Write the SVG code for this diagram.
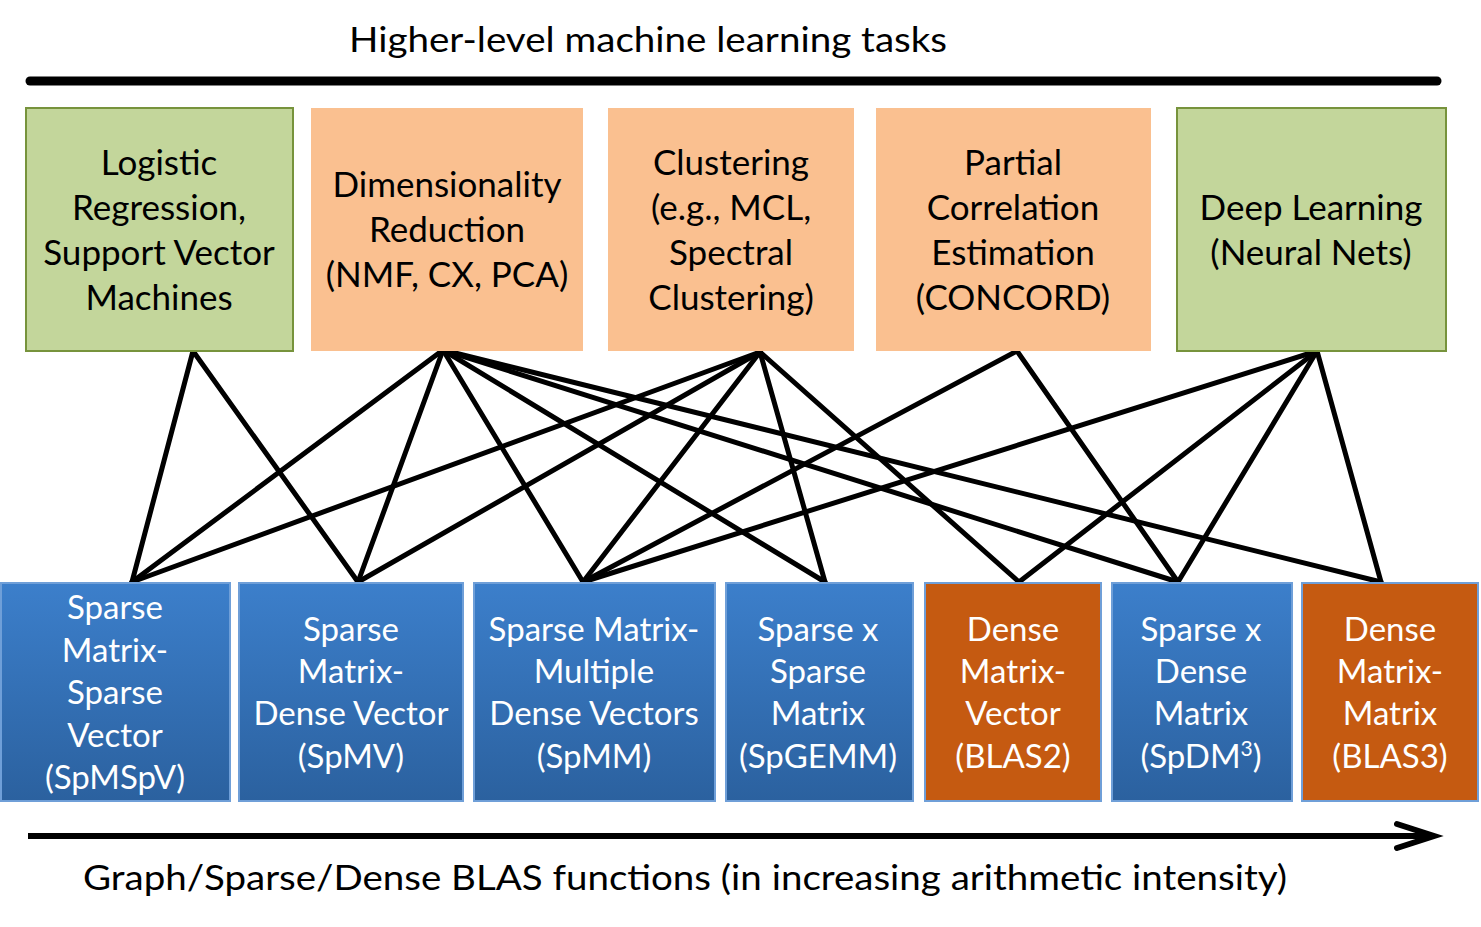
<svg xmlns="http://www.w3.org/2000/svg" width="1481" height="927" viewBox="0 0 1481 927">
<defs>
<linearGradient id="blue" x1="0" y1="0" x2="0" y2="1">
<stop offset="0" stop-color="#3c7fcb"/>
<stop offset="1" stop-color="#2b619f"/>
</linearGradient>
<style>
.t{font-family:Lato,"Open Sans","Liberation Sans",sans-serif;font-size:35px;text-anchor:middle;fill:#000}
.w{fill:#fff;font-size:33px}
.green{fill:#c3d69b;stroke:#77933c;stroke-width:2}
.peach{fill:#fac090}
.bl{fill:url(#blue);stroke:#6f9fd8;stroke-width:2}
.or{fill:#c55a11;stroke:#6f9fd8;stroke-width:2}
.c line{stroke:#000;stroke-width:5;stroke-linecap:round}
</style>
</defs>
<rect width="1481" height="927" fill="#fff"/>

<text class="t" x="648" y="52" textLength="598" lengthAdjust="spacingAndGlyphs">Higher-level machine learning tasks</text>
<line x1="30" y1="81" x2="1437" y2="81" stroke="#000" stroke-width="9" stroke-linecap="round"/>

<g class="c" id="connectors">
<line x1="193" y1="351" x2="132" y2="582"/>
<line x1="193" y1="351" x2="358" y2="582"/>
<line x1="443" y1="350" x2="132" y2="582"/>
<line x1="443" y1="350" x2="358" y2="582"/>
<line x1="443" y1="350" x2="583" y2="582"/>
<line x1="443" y1="350" x2="825" y2="582"/>
<line x1="443" y1="350" x2="1178" y2="582"/>
<line x1="443" y1="350" x2="1381" y2="582"/>
<line x1="760" y1="352" x2="132" y2="582"/>
<line x1="760" y1="352" x2="358" y2="582"/>
<line x1="760" y1="352" x2="583" y2="582"/>
<line x1="760" y1="352" x2="825" y2="582"/>
<line x1="760" y1="352" x2="1019" y2="582"/>
<line x1="1017" y1="351" x2="583" y2="582"/>
<line x1="1017" y1="351" x2="1178" y2="582"/>
<line x1="1317" y1="351" x2="583" y2="582"/>
<line x1="1317" y1="351" x2="1019" y2="582"/>
<line x1="1317" y1="351" x2="1178" y2="582"/>
<line x1="1317" y1="351" x2="1381" y2="582"/>
</g>

<g id="lr"><rect class="green" x="26" y="108" width="267" height="243"/>
<text class="t" x="159" y="175">Logistic</text><text class="t" x="159" y="220">Regression,</text><text class="t" x="159" y="265">Support Vector</text><text class="t" x="159" y="310">Machines</text></g>
<g id="dr"><rect class="peach" x="311" y="108" width="272" height="243"/>
<text class="t" x="447" y="197">Dimensionality</text><text class="t" x="447" y="242">Reduction</text><text class="t" x="447" y="287">(NMF, CX, PCA)</text></g>
<g id="cl"><rect class="peach" x="608" y="108" width="246" height="243"/>
<text class="t" x="731" y="175">Clustering</text><text class="t" x="731" y="220">(e.g., MCL,</text><text class="t" x="731" y="265">Spectral</text><text class="t" x="731" y="310">Clustering)</text></g>
<g id="pc"><rect class="peach" x="876" y="108" width="275" height="243"/>
<text class="t" x="1013" y="175">Partial</text><text class="t" x="1013" y="220">Correlation</text><text class="t" x="1013" y="265">Estimation</text><text class="t" x="1013" y="310">(CONCORD)</text></g>
<g id="dl"><rect class="green" x="1177" y="108" width="269" height="243"/>
<text class="t" x="1311" y="220">Deep Learning</text><text class="t" x="1311" y="265">(Neural Nets)</text></g>

<g id="spmspv"><rect class="bl" x="1" y="583" width="229" height="218"/>
<text class="t w" x="115" y="619">Sparse</text><text class="t w" x="115" y="662">Matrix-</text><text class="t w" x="115" y="704">Sparse</text><text class="t w" x="115" y="747">Vector</text><text class="t w" x="115" y="789">(SpMSpV)</text></g>
<g id="spmv"><rect class="bl" x="239" y="583" width="224" height="218"/>
<text class="t w" x="351" y="641">Sparse</text><text class="t w" x="351" y="683">Matrix-</text><text class="t w" x="351" y="725">Dense Vector</text><text class="t w" x="351" y="768">(SpMV)</text></g>
<g id="spmm"><rect class="bl" x="474" y="583" width="241" height="218"/>
<text class="t w" x="594" y="641">Sparse Matrix-</text><text class="t w" x="594" y="683">Multiple</text><text class="t w" x="594" y="725">Dense Vectors</text><text class="t w" x="594" y="768">(SpMM)</text></g>
<g id="spgemm"><rect class="bl" x="726" y="583" width="187" height="218"/>
<text class="t w" x="818" y="641">Sparse x</text><text class="t w" x="818" y="683">Sparse</text><text class="t w" x="818" y="725">Matrix</text><text class="t w" x="818" y="768">(SpGEMM)</text></g>
<g id="blas2"><rect class="or" x="925" y="583" width="176" height="218"/>
<text class="t w" x="1013" y="641">Dense</text><text class="t w" x="1013" y="683">Matrix-</text><text class="t w" x="1013" y="725">Vector</text><text class="t w" x="1013" y="768">(BLAS2)</text></g>
<g id="spdm3"><rect class="bl" x="1112" y="583" width="180" height="218"/>
<text class="t w" x="1201" y="641">Sparse x</text><text class="t w" x="1201" y="683">Dense</text><text class="t w" x="1201" y="725">Matrix</text><text class="t w" x="1201" y="768">(SpDM<tspan font-size="21" dy="-12">3</tspan><tspan dy="12">)</tspan></text></g>
<g id="blas3"><rect class="or" x="1302" y="583" width="176" height="218"/>
<text class="t w" x="1390" y="641">Dense</text><text class="t w" x="1390" y="683">Matrix-</text><text class="t w" x="1390" y="725">Matrix</text><text class="t w" x="1390" y="768">(BLAS3)</text></g>

<g id="axis">
<line x1="28" y1="836" x2="1430" y2="836" stroke="#000" stroke-width="6"/>
<polyline points="1397,824 1434,836 1397,848" fill="none" stroke="#000" stroke-width="6" stroke-linecap="round" stroke-linejoin="miter"/>
</g>
<text class="t" x="685" y="890" textLength="1204" lengthAdjust="spacingAndGlyphs">Graph/Sparse/Dense BLAS functions (in increasing arithmetic intensity)</text>
</svg>
